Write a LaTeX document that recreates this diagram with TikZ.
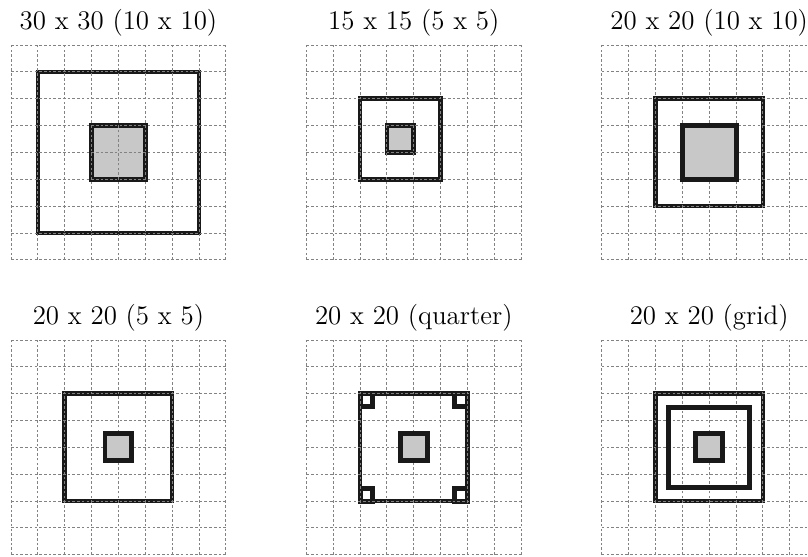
\documentclass[tikz,border=0pt]{standalone}
\usepackage{tikz}
\definecolor{boxgray}{RGB}{200,200,200}
\definecolor{gridgray}{RGB}{130,130,130}
\definecolor{edgeblack}{RGB}{25,25,25}
\begin{document}
\begin{tikzpicture}[x=0.4cm, y=-0.4cm, line join=miter,
    gridline/.style={gridgray, line width=0.4pt, step=0.4cm, dash pattern=on 1.1pt off 0.9pt},
    border/.style={edgeblack, line width=2pt},
    solidbox/.style={edgeblack, line width=2.1pt},
    boxfill/.style={fill=boxgray},
    captxt/.style={anchor=base, font=\fontsize{11.4}{13}\selectfont, inner sep=0pt}]
    \useasboundingbox (0,0) rectangle (30.09,20.71);
    \def\gap{0.58}
    % top row
    \begin{scope}[shift={(0.41,1.676)}]
      \fill[boxfill] (3,3) rectangle (5,5);
      \draw[border] (1,1) rectangle (7,7);
      \draw[border] (3,3) rectangle (5,5);
      \draw[gridline] (0,0) grid (8,8);
      \node[captxt] (t1) at (4,-\gap) {30 x 30 (10 x 10)};
    \end{scope}
    \begin{scope}[shift={(11.41,1.676)}]
      \fill[boxfill] (3,3) rectangle (4,4);
      \draw[border] (2,2) rectangle (5,5);
      \draw[border] (3,3) rectangle (4,4);
      \draw[gridline] (0,0) grid (8,8);
      \node[captxt] (t2) at (4,-\gap) {15 x 15 (5 x 5)};
    \end{scope}
    \begin{scope}[shift={(22.41,1.676)}]
      \draw[border] (2,2) rectangle (6,6);
      \draw[gridline] (0,0) grid (8,8);
      \draw[solidbox, boxfill] (3,3) rectangle (5,5);
      \node[captxt] (t3) at (4,-\gap) {20 x 20 (10 x 10)};
    \end{scope}
    % bottom row
    \begin{scope}[shift={(0.41,12.66)}]
      \draw[border] (2,2) rectangle (6,6);
      \draw[gridline] (0,0) grid (8,8);
      \draw[solidbox, boxfill] (3.5,3.5) rectangle (4.5,4.5);
      \node[captxt] (t4) at (4,-\gap) {20 x 20 (5 x 5)};
    \end{scope}
    \begin{scope}[shift={(11.41,12.66)}]
      \draw[solidbox] (2,2) rectangle (2.47,2.47);
      \draw[solidbox] (5.53,2) rectangle (6,2.47);
      \draw[solidbox] (2,5.53) rectangle (2.47,6);
      \draw[solidbox] (5.53,5.53) rectangle (6,6);
      \draw[border] (2,2) rectangle (6,6);
      \draw[gridline] (0,0) grid (8,8);
      \draw[solidbox, boxfill] (3.5,3.5) rectangle (4.5,4.5);
      \node[captxt] (t5) at (4,-\gap) {20 x 20 (quarter)};
    \end{scope}
    \begin{scope}[shift={(22.41,12.66)}]
      \draw[border] (2,2) rectangle (6,6);
      \draw[gridline] (0,0) grid (8,8);
      \draw[solidbox] (2.5,2.5) rectangle (5.5,5.5);
      \draw[solidbox, boxfill] (3.5,3.5) rectangle (4.5,4.5);
      \node[captxt] (t6) at (4,-\gap) {20 x 20 (grid)};
    \end{scope}
\end{tikzpicture}
\end{document}
